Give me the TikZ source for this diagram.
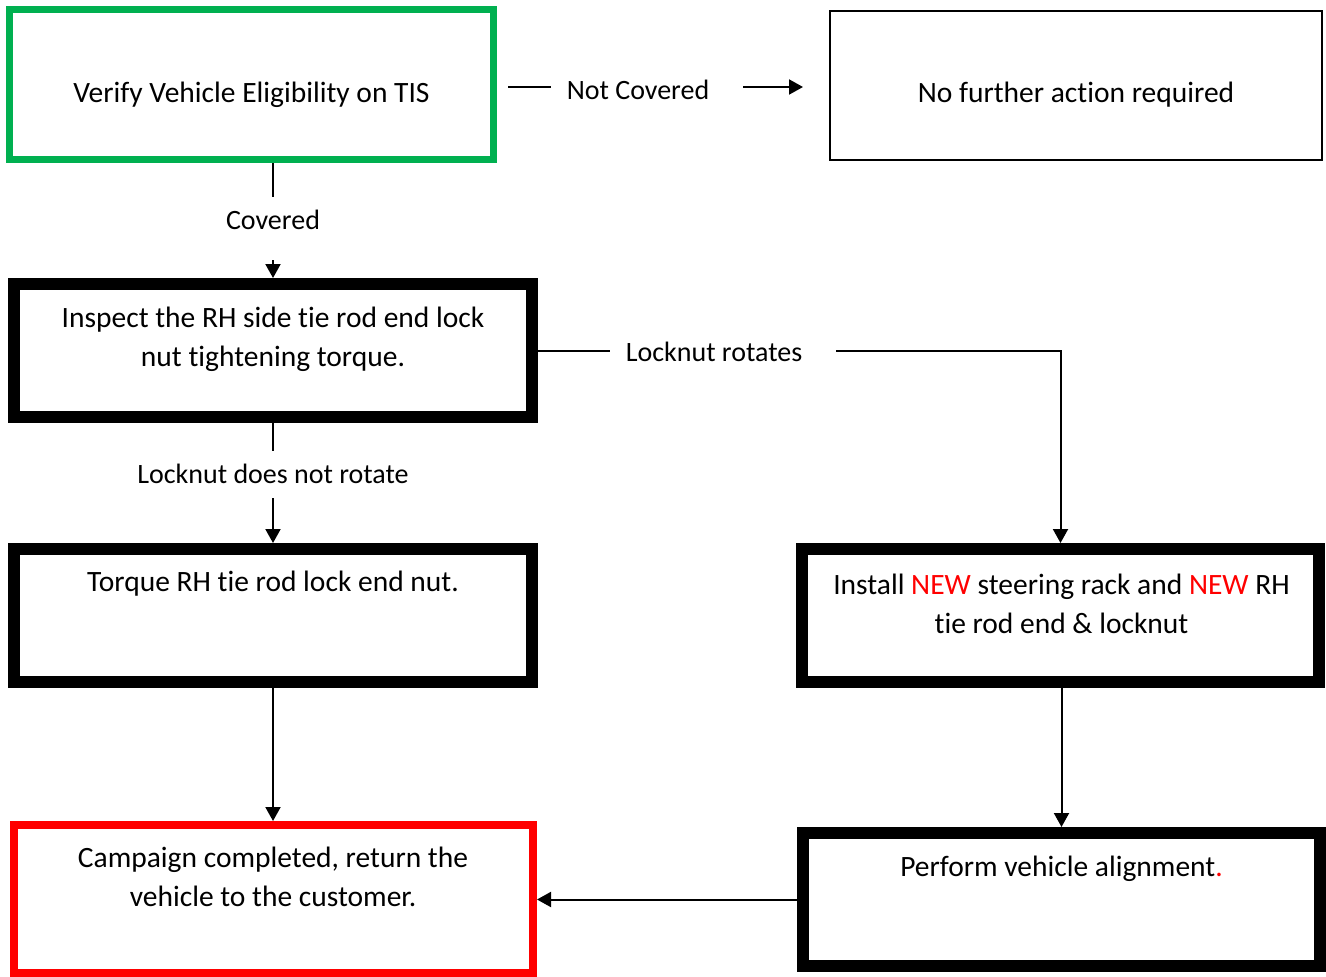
\documentclass[tikz,border=0pt]{standalone}
\usepackage{fontspec}
\setmainfont{Carlito}[Ligatures=NoCommon]
\usetikzlibrary{arrows.meta}
\definecolor{pred}{HTML}{FF0000}
\definecolor{pgreen}{HTML}{00B050}
\begin{document}
\begin{tikzpicture}[x=1pt,y=-1pt,
  every node/.style={font=\fontsize{29.5}{39}\selectfont},
  heavybox/.style={draw,line width=12pt,outer sep=6pt,inner sep=0pt,minimum width=518pt,minimum height=133pt},
  greenbox/.style={draw=pgreen,line width=7pt,outer sep=3.5pt,inner sep=0pt,minimum width=484pt,minimum height=150pt},
  redbox/.style={draw=pred,line width=8pt,outer sep=4pt,inner sep=0pt,minimum width=519pt,minimum height=148pt},
  thinbox/.style={draw,line width=1.5pt,outer sep=0.75pt,inner sep=0pt,minimum width=492pt,minimum height=149pt},
  txt/.style={align=center,inner sep=0pt},
  lbl/.style={inner sep=0pt,font=\fontsize{28}{34}\selectfont},
  conn/.style={line width=2pt},
  arr/.style={line width=2pt,-{Triangle[length=14pt,width=15pt]}}
]
\useasboundingbox (0,0) rectangle (1326,977);
% boxes
\node[greenbox] (b1) at (251.5,84.5) {};
\node[thinbox]  (b2) at (1076,85.5) {};
\node[heavybox] (b3) at (273,350.5) {};
\node[heavybox] (b4) at (273,615.5) {};
\node[heavybox,minimum width=517pt] (b5) at (1060.5,615.5) {};
\node[heavybox,minimum width=517pt] (b6) at (1061.5,899.5) {};
\node[redbox] (b7) at (273.5,899) {};
% box texts
\node[txt] (t1) at (251.5,94.5) {Verify Vehicle Eligibility on TIS};
\node[txt] (t2) at (1076,95) {No further action required};
\node[txt] (t3) at (273,339.5) {Inspect the RH side tie rod end lock\\nut tightening torque.};
\node[txt] (t4) at (273,584) {Torque RH tie rod lock end nut.};
\node[txt] (t5) at (1061.5,603.5) {Install \textcolor{pred}{NEW} steering rack and \textcolor{pred}{NEW} RH\\tie rod end \& locknut};
\node[txt] (t6) at (1061.5,869) {Perform vehicle alignment\textcolor{pred}{.}};
\node[txt] (t7) at (273,876.5) {Campaign completed, return the\\vehicle to the customer.};
% labels
\node[lbl] (lnc) at (638,90) {Not Covered};
\node[lbl] (lcv) at (273,220) {Covered};
\node[lbl] (lnr) at (273,474) {Locknut does not rotate};
\node[lbl] (lr)  at (714,352) {Locknut rotates};
% free ends
\coordinate (n1) at (508,87);
\coordinate (n2) at (551,87);
\coordinate (n3) at (743,87);
\coordinate (n4) at (803,87);
\coordinate (c1) at (273,197);
\coordinate (c2) at (273,260);
\coordinate (c3) at (273,451);
\coordinate (c4) at (273,498);
\coordinate (c5) at (610,350.5);
\coordinate (c6) at (836,350.5);
% connectors
\draw[conn] (n1) -- (n2);
\draw[arr] (n3) -- (n4);
\draw[conn] (b1.south -| b3.north) -- (c1);
\draw[arr] (c2) -- (b3.north);
\draw[conn] (b3.south) -- (c3);
\draw[arr] (c4) -- (b4.north);
\draw[conn] (b3.east) -- (c5);
\draw[arr] (c6) -| (b5.north);
\draw[arr] (b4.south) -- (b4.south |- b7.north);
\draw[arr] (b5.south -| b6.north) -- (b6.north);
\draw[arr] (b6.west) -- (b6.west -| b7.east);
\end{tikzpicture}
\end{document}
